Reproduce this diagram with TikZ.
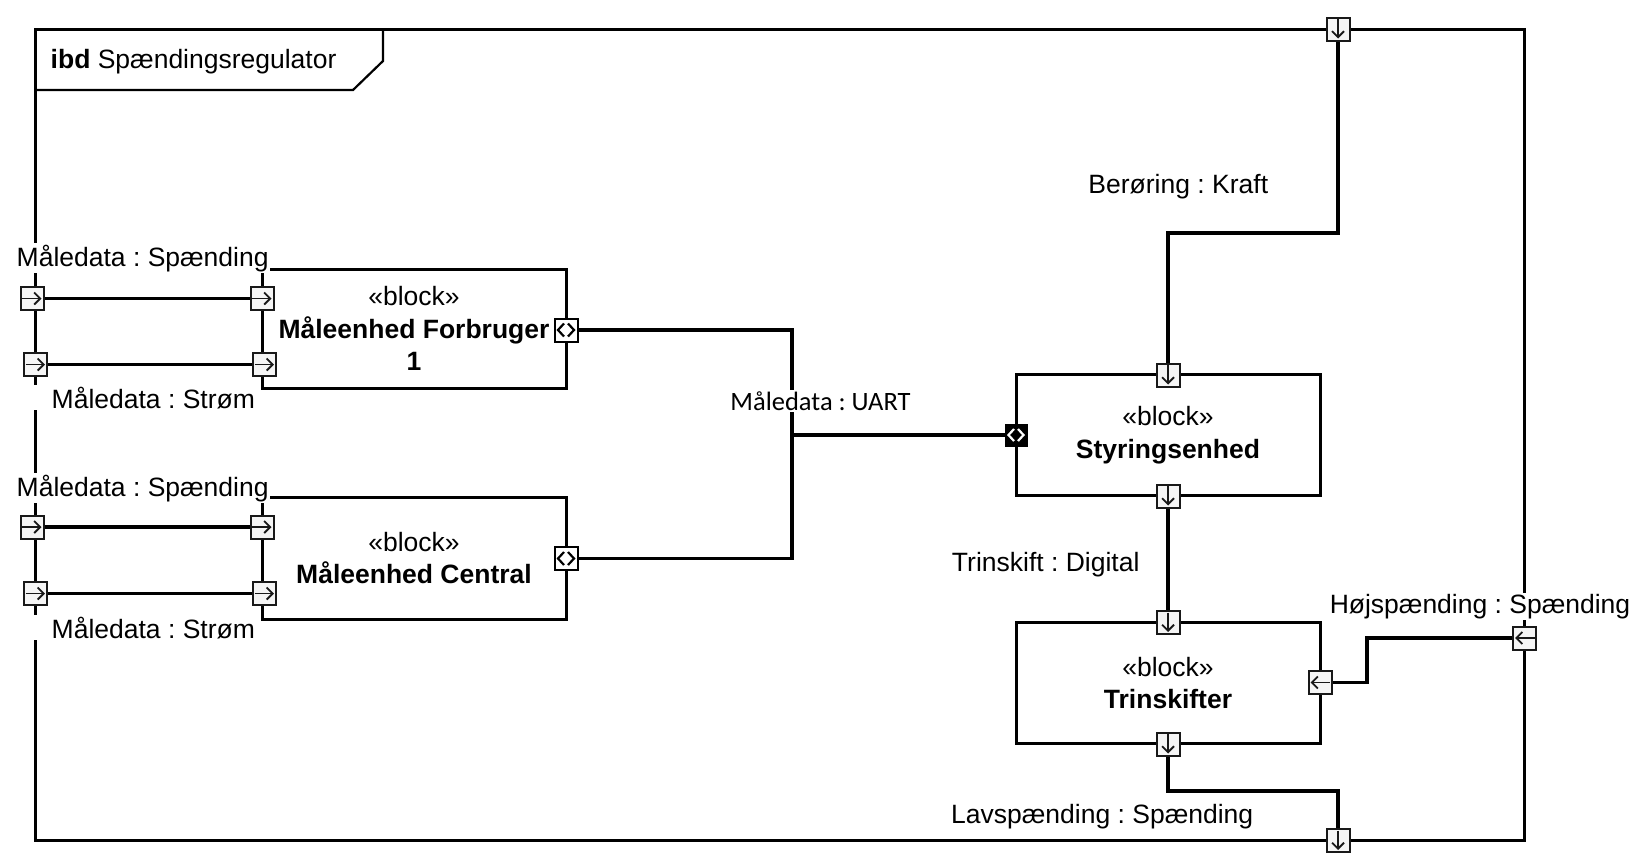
\documentclass[tikz,border=0pt]{standalone}
\usepackage{fontspec}
\setmainfont{Liberation Sans}
\newfontfamily\uartfont{Carlito}
\usetikzlibrary{arrows.meta}
\frenchspacing
\begin{document}
\begin{tikzpicture}[x=1pt,y=-1pt,
  font=\fontsize{26.5}{32.5}\selectfont,
  frameline/.style={draw=black, line width=3},
  headline/.style={draw=black, line width=2.2},
  blockbox/.style={draw=black, line width=3, fill=white, minimum width=304, align=center, inner sep=0},
  conn/.style={draw=black, line width=3.5},
  lbl/.style={fill=white, inner sep=1.5, anchor=base west},
  lblc/.style={fill=white, inner sep=1.5, anchor=base},
  port/.style={draw=black!90, fill=black!4, line width=2, minimum size=23, inner sep=0, outer sep=0},
  parrow/.style={line width=1.8, -{Straight Barb[length=6,width=12]}},
  pdown/.style={port, path picture={\draw[parrow] ([yshift=10]path picture bounding box.center) -- ([yshift=-9.5]path picture bounding box.center);}},
  pright/.style={port, path picture={\draw[parrow] ([xshift=-10]path picture bounding box.center) -- ([xshift=9.5]path picture bounding box.center);}},
  pleft/.style={port, path picture={\draw[parrow] ([xshift=10]path picture bounding box.center) -- ([xshift=-9.5]path picture bounding box.center);}},
  pflow/.style={port, fill=white, draw=black, path picture={
     \draw[line width=2.2, black] ([shift={(-2,-6.5)}]path picture bounding box.center) -- ([shift={(-8,0)}]path picture bounding box.center) -- ([shift={(-2,6.5)}]path picture bounding box.center);
     \draw[line width=2.2, black] ([shift={(2,-6.5)}]path picture bounding box.center) -- ([shift={(8,0)}]path picture bounding box.center) -- ([shift={(2,6.5)}]path picture bounding box.center);}},
  pconj/.style={port, minimum size=21, fill=black, draw=black, path picture={
     \draw[line width=2.2, white] ([shift={(-2,-6)}]path picture bounding box.center) -- ([shift={(-7.5,0)}]path picture bounding box.center) -- ([shift={(-2,6)}]path picture bounding box.center);
     \draw[line width=2.2, white] ([shift={(2,-6)}]path picture bounding box.center) -- ([shift={(7.5,0)}]path picture bounding box.center) -- ([shift={(2,6)}]path picture bounding box.center);}}
]
\useasboundingbox (0,0) rectangle (1643,865);
\fill[white] (0,0) rectangle (1643,865);

% frame and header
\draw[frameline] (35,29) rectangle (1524.5,840.5);
\draw[headline] (35,90) -- (353,90) -- (383,61) -- (383,29);
\node[anchor=base west, inner sep=1.5] (title) at (49,68.3) {\textbf{ibd} Spændingsregulator};

% blocks
\node[blockbox, minimum height=119] (b1) at (414,328.5) {«block»\\\textbf{Måleenhed Forbruger}\\\textbf{1}};
\node[blockbox, minimum height=122] (b2) at (414,558) {«block»\\\textbf{Måleenhed Central}};
\node[blockbox, minimum height=120.5] (s) at (1168,435) {«block»\\\textbf{Styringsenhed}};
\node[blockbox, minimum height=121.5] (t) at (1168,683) {«block»\\\textbf{Trinskifter}};

% coordinates for bends
\coordinate (k1) at (1253,233);
\coordinate (k2) at (792,435);
\coordinate (k3) at (1367,660);
\coordinate (k4) at (1253,791);

% ports (placed first as nodes so connectors can refer to them)
\path
  (1338,29)     node[pdown]  (pTop) {}
  (1338,840.5)  node[pdown]  (pBot) {}
  (1524.5,638)  node[pleft]  (pRight) {}
  (32,298.5)    node[pright] (pL1) {}
  (35.5,364.5)  node[pright] (pL2) {}
  (32,527)      node[pright] (pL3) {}
  (35.5,593.5)  node[pright] (pL4) {}
  (262,298.5)   node[pright] (b1a) {}
  (264.5,364.5) node[pright] (b1b) {}
  (262,527)     node[pright] (b2a) {}
  (264.5,593.5) node[pright] (b2b) {}
  (566,330)     node[pflow]  (b1r) {}
  (566,558.5)   node[pflow]  (b2r) {}
  (1016,435)    node[pconj]  (sL) {}
  (1168,375)    node[pdown]  (sT) {}
  (1168,496)    node[pdown]  (sB) {}
  (1168,622.5)  node[pdown]  (tT) {}
  (1168,744)    node[pdown]  (tB) {}
  (1320,682.5)  node[pleft]  (tR) {};

% connectors
\draw[conn] (pTop) |- (k1) -| (sT);
\draw[conn] (pL1) -- (b1a);
\draw[conn] (pL2) -- (b1b);
\draw[conn] (pL3) -- (b2a);
\draw[conn] (pL4) -- (b2b);
\draw[conn] (b1r) -| (k2) |- (b2r);
\draw[conn] (k2) -- (sL);
\draw[conn] (sB) -- (tT);
\draw[conn] (tR) -| (k3) |- (pRight);
\draw[conn] (tB) |- (k4) -| (pBot);

% labels
\node[lbl] (l1) at (15,266) {Måledata : Spænding};
\node[lbl] (l2) at (33,408.3) {\hspace*{17pt}Måledata : Strøm};
\node[lbl] (l3) at (15,496) {Måledata : Spænding};
\node[lbl] (l4) at (33,638.3) {\hspace*{17pt}Måledata : Strøm};
\node[lblc] (l5) at (820.5,410.7) {\uartfont Måledata : UART};
\node[lblc] (l6) at (1178.3,193.3) {Berøring : Kraft};
\node[lblc] (l7) at (1045.7,571.7) {Trinskift : Digital};
\node[lblc] (l8) at (1480,613.3) {Højspænding : Spænding};
\node[lblc] (l9) at (1102.2,823.3) {Lavspænding : Spænding};

% redraw ports on top
\path
  (1338,29)     node[pdown]  {}
  (1338,840.5)  node[pdown]  {}
  (1524.5,638)  node[pleft]  {}
  (32,298.5)    node[pright] {}
  (35.5,364.5)  node[pright] {}
  (32,527)      node[pright] {}
  (35.5,593.5)  node[pright] {}
  (262,298.5)   node[pright] {}
  (264.5,364.5) node[pright] {}
  (262,527)     node[pright] {}
  (264.5,593.5) node[pright] {}
  (566,330)     node[pflow]  {}
  (566,558.5)   node[pflow]  {}
  (1016,435)    node[pconj]  {}
  (1168,375)    node[pdown]  {}
  (1168,496)    node[pdown]  {}
  (1168,622.5)  node[pdown]  {}
  (1168,744)    node[pdown]  {}
  (1320,682.5)  node[pleft]  {};
\end{tikzpicture}
\end{document}
